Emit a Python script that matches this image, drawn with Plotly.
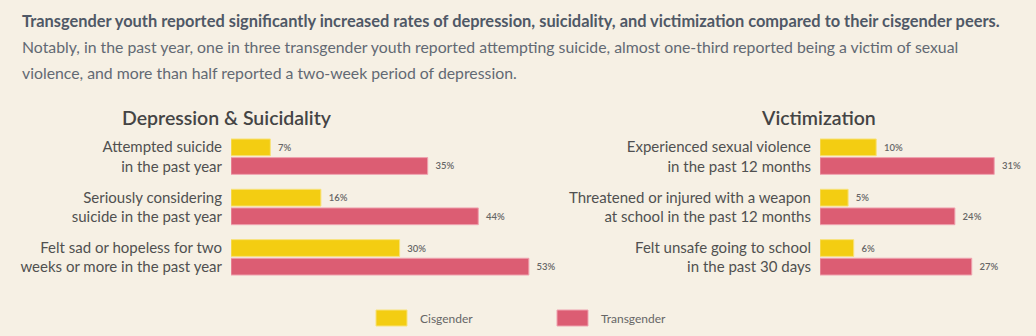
import plotly.graph_objects as go

# ---- data ----
left_labels = ["Attempted suicide<br>in the past year",
               "Seriously considering<br>suicide in the past year",
               "Felt sad or hopeless for two<br>weeks or more in the past year"]
left_cis = [7, 16, 30]
left_trans = [35, 44, 53]

right_labels = ["Experienced sexual violence<br>in the past 12 months",
                "Threatened or injured with a weapon<br>at school in the past 12 months",
                "Felt unsafe going to school<br>in the past 30 days"]
right_cis = [10, 5, 6]
right_trans = [31, 24, 27]

series_names = ["Cisgender", "Transgender"]
panel_titles = ["Depression & Suicidality", "Victimization"]

title_text = "Transgender youth reported significantly increased rates of depression, suicidality, and victimization compared to their cisgender peers."
sub_line1 = "Notably, in the past year, one in three transgender youth reported attempting suicide, almost one-third reported being a victim of sexual"
sub_line2 = "violence, and more than half reported a two-week period of depression."

# ---- styling ----
W, H = 1036, 336
BG = "#F6F0E4"
YELLOW = "#F3CD12"
PINK = "#DC5D73"
FONT = "Lato"
PX_PER_PCT = 5.62

def fx(px):
    return px / W

def fy(px):
    return 1 - px / H

fig = go.Figure()

panels = [
    (left_labels, left_cis, left_trans, "x", "y", 231, 531),
    (right_labels, right_cis, right_trans, "x2", "y2", 820, 1030),
]

for labels, cis, trans, xa, ya, x0, x1 in panels:
    pos = list(range(len(labels)))
    for name, vals, col, lc in [(series_names[0], cis, YELLOW, "#F8E27A"),
                                (series_names[1], trans, PINK, "#EFA3B0")]:
        fig.add_trace(go.Bar(
            y=pos, x=vals, orientation="h", name=name,
            marker=dict(color=col, line=dict(color=lc, width=1)),
            text=vals, texttemplate="\u00a0\u00a0%{x}%",
            textposition="outside", constraintext="none", cliponaxis=False,
            textfont=dict(family=FONT, size=9.5, color="#666666", weight=600),
            xaxis=xa, yaxis=ya, showlegend=False, hoverinfo="skip",
        ))

ydom = [fy(282.5), fy(131.5)]

def xaxis(x0, x1):
    return dict(domain=[fx(x0), fx(x1)], range=[0, (x1 - x0) / PX_PER_PCT],
                visible=False, fixedrange=True)

def yaxis(labels, anchor):
    return dict(domain=ydom, anchor=anchor, range=[len(labels) - 0.5, -0.5],
                tickmode="array", tickvals=list(range(len(labels))), ticktext=labels,
                showgrid=False, zeroline=False, showline=False, ticks="",
                ticklabelstandoff=8,
                tickfont=dict(family=FONT, size=15, color="#505050"))

fig.update_layout(
    width=W, height=H, margin=dict(l=0, r=0, t=0, b=0),
    paper_bgcolor=BG, plot_bgcolor=BG,
    barmode="group", bargap=0.26, bargroupgap=0.1,
    xaxis=xaxis(231, 531), yaxis=yaxis(left_labels, "x"),
    xaxis2=xaxis(820, 1030), yaxis2=yaxis(right_labels, "x2"),
    showlegend=False,
)

ann = []
ann.append(dict(x=fx(20), y=fy(20), xref="paper", yref="paper", xanchor="left", yanchor="middle",
                text="<b>" + title_text + "</b>", showarrow=False,
                font=dict(family=FONT, size=16.4, color="#4f5866")))
ann.append(dict(x=fx(20), y=fy(47), xref="paper", yref="paper", xanchor="left", yanchor="middle",
                text=sub_line1, showarrow=False, font=dict(family=FONT, size=15.8, color="#626973")))
ann.append(dict(x=fx(20), y=fy(72), xref="paper", yref="paper", xanchor="left", yanchor="middle",
                text=sub_line2, showarrow=False, font=dict(family=FONT, size=15.8, color="#626973")))
ann.append(dict(x=fx(227), y=fy(117), xref="paper", yref="paper", xanchor="center", yanchor="middle",
                text=panel_titles[0], showarrow=False,
                font=dict(family=FONT, size=19.5, color="#444444", weight=600)))
ann.append(dict(x=fx(818), y=fy(117), xref="paper", yref="paper", xanchor="center", yanchor="middle",
                text=panel_titles[1], showarrow=False,
                font=dict(family=FONT, size=19.5, color="#444444", weight=600)))

# legend
shapes = []
for (sx, col, lc, name) in [(376, YELLOW, "#F8E27A", series_names[0]), (557, PINK, "#EFA3B0", series_names[1])]:
    shapes.append(dict(type="rect", xref="paper", yref="paper",
                       x0=fx(sx), x1=fx(sx + 31), y0=fy(326), y1=fy(310),
                       fillcolor=col, line=dict(color=lc, width=1)))
    ann.append(dict(x=fx(sx + 42), y=fy(318), xref="paper", yref="paper", xanchor="left", yanchor="middle",
                    text=name, showarrow=False, font=dict(family=FONT, size=12, color="#666666")))

fig.update_layout(annotations=ann, shapes=shapes)
fig.write_html("out.html")
